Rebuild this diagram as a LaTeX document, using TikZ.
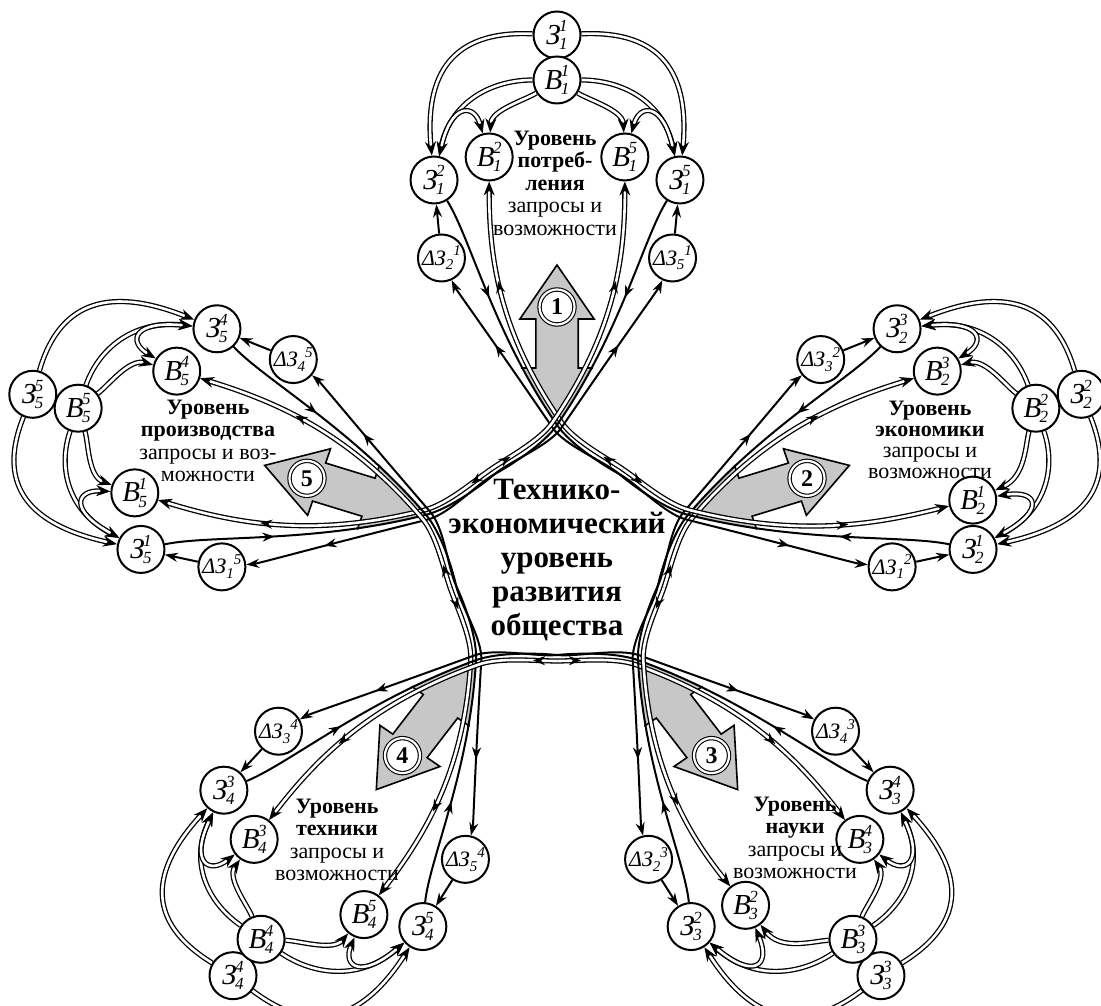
\documentclass[tikz,border=0pt]{standalone}
\usepackage{fontspec}
\setmainfont{Liberation Serif}
\usetikzlibrary{arrows.meta,decorations.markings}
\pgfdeclarelayer{back}
\pgfdeclarelayer{lines}
\pgfsetlayers{back,lines,main}

\newcommand\nlab[3]{\textit{#1}\kern-1.5pt\rlap{\raisebox{-0.18em}{\fontsize{17}{17}\selectfont\textit{#2}}}\raisebox{0.42em}{\fontsize{17}{17}\selectfont\textit{#3}}}
\newcommand\dlab[2]{\textit{ΔЗ}\raisebox{-0.22em}{\fontsize{15}{15}\selectfont\textit{#1}}\raisebox{0.42em}{\fontsize{15}{15}\selectfont\textit{#2}}}

\tikzset{
  nd/.style={draw, circle, line width=2pt, fill=white, minimum size=47pt, inner sep=0pt, font=\fontsize{29}{29}\selectfont},
  dn/.style={nd, font=\fontsize{22}{22}\selectfont},
  numc/.style={draw, circle, fill=white, double, double distance=2.2pt, line width=1.1pt, minimum size=35pt, inner sep=0pt, font=\bfseries\fontsize{24}{24}\selectfont},
  sgl/.style={line width=2pt},
  dbl/.style={double, double distance=2.6pt, line width=1.3pt},
  tips/.style={-{Stealth[length=13pt,width=9pt]}},
  tipsr/.style={{Stealth[length=13pt,width=9pt]}-},
  tipd/.style={-{Stealth[length=14pt,width=11pt]}},
  tipdr/.style={{Stealth[length=14pt,width=11pt]}-},
  tipdd/.style={{Stealth[length=14pt,width=11pt]}-{Stealth[length=14pt,width=11pt]}},
  mkf/.style={postaction={decorate,decoration={markings,mark=at position #1 with {\pgfsetinnerlinewidth{0pt}\arrow{Stealth[length=12pt,width=9pt]}}}}},
  mkb/.style={postaction={decorate,decoration={markings,mark=at position #1 with {\pgfsetinnerlinewidth{0pt}\arrowreversed{Stealth[length=12pt,width=9pt]}}}}},
  agrey/.style={fill=black!22},
  aline/.style={line width=1.6pt, line join=miter},
  ptxt/.style={align=center, inner sep=0pt, font=\fontsize{22}{22.5}\selectfont},
  ptxtb/.style={ptxt, font=\fontsize{22}{21}\selectfont},
  ctxt/.style={align=center, inner sep=0pt, font=\bfseries\fontsize{31}{34}\selectfont}
}

\newcommand\petalside[2]{%
  \draw[dbl,tipd] (ZO#1) .. controls (-100,525) and (-125,480) .. (Z#2#1);
  \draw[dbl,tipd] (BO#1) .. controls (-60,475) and (-100,455) .. (Z#2#1);
  \draw[dbl,tipd] (BO#1) .. controls (-30,455) and (-62,445) .. (B#2#1);
  \draw[dbl,tipdd] (Z#2#1) .. controls (-100,452) and (-78,452) .. (B#2#1);
  \draw[sgl,tips] (D#2#1) -- (Z#2#1);
  \draw[sgl,mkf=0.32] (Z#2#1) .. controls (-82,318) and (-60,222) .. (0,130) .. controls (12,111.5) and (41.5,90.9) .. (58.8,80.9);
  \draw[sgl,tipsr,mkb=0.3] (D#2#1) .. controls (-95,265) and (-64,220) .. (-4.2,127.3) .. controls (7.8,108.8) and (43.9,94.3) .. (58.8,80.9);
  \draw[dbl,tipdr,mkb=0.3,mkb=0.93] (B#2#1) .. controls (-64,300) and (-56,225) .. (4.2,132.7) .. controls (16.2,114.2) and (46.2,97.5) .. (62.4,85.7);
}

\begin{document}
\begin{tikzpicture}[x=1pt,y=1pt]
\useasboundingbox (0,0) rectangle (1101,1006);
\foreach \i in {1,...,5}{
  \pgfmathtruncatemacro\nx{mod(\i,5)+1}
  \pgfmathtruncatemacro\pv{mod(\i+3,5)+1}
  \pgfmathsetmacro\brx{(\i==2)?69:((\i==3)?62:64)}
  \pgfmathsetmacro\bry{(\i==2)?390:((\i==3)?388:398)}
  \begin{scope}[shift={(557,451)},xscale=1.06,rotate={-72*(\i-1)}]
    \begin{pgfonlayer}{back}
      \fill[agrey] (0,290) -- (35,236) -- (20,236) -- (20,187) -- (34,187) -- (0,130) -- (-34,187) -- (-20,187) -- (-20,236) -- (-35,236) -- cycle;
      \draw[aline] (34,187) -- (20,187) -- (20,236) -- (35,236) -- (0,290) -- (-35,236) -- (-20,236) -- (-20,187) -- (-34,187);
    \end{pgfonlayer}
    \node[nd] (ZO\i) at (0,520) {\nlab{З}{\i}{\i}};
    \node[nd] (BO\i) at (0,475) {\nlab{В}{\i}{\i}};
    \node[nd] (ZL\i) at (-116,375) {\nlab{З}{\i}{\nx}};
    \node[nd] (BL\i) at (-64,398) {\nlab{В}{\i}{\nx}};
    \node[dn] (DL\i) at (-109,297) {\dlab{\nx}{\i}};
    \node[nd] (ZR\i) at (116,375) {\nlab{З}{\i}{\pv}};
    \node[nd] (BR\i) at (\brx,\bry) {\nlab{В}{\i}{\pv}};
    \node[dn] (DR\i) at (109,297) {\dlab{\pv}{\i}};
    \node[numc] (N\i) at (0,248) {\i};
    \begin{pgfonlayer}{lines}
      \petalside{\i}{L}
      \begin{scope}[xscale=-1]
        \petalside{\i}{R}
      \end{scope}
    \end{pgfonlayer}
  \end{scope}
}
\node[ptxt] (T1) at (555,823) {\textbf{Уровень}\\\textbf{потреб-}\\\textbf{ления}\\запросы и\\возможности};
\node[ptxtb] (T2) at (930,566) {\textbf{Уровень}\\\textbf{экономики}\\запросы и\\возможности};
\node[ptxt] (T3) at (795,168) {\textbf{Уровень}\\\textbf{науки}\\запросы и\\возможности};
\node[ptxt] (T4) at (337,166) {\textbf{Уровень}\\\textbf{техники}\\запросы и\\возможности};
\node[ptxt] (T5) at (208,565) {\textbf{Уровень}\\\textbf{производства}\\запросы и воз-\\можности};
\node[ctxt] (C) at (557,446) {Технико-\\экономический\\уровень\\развития\\общества};
\end{tikzpicture}
\end{document}
